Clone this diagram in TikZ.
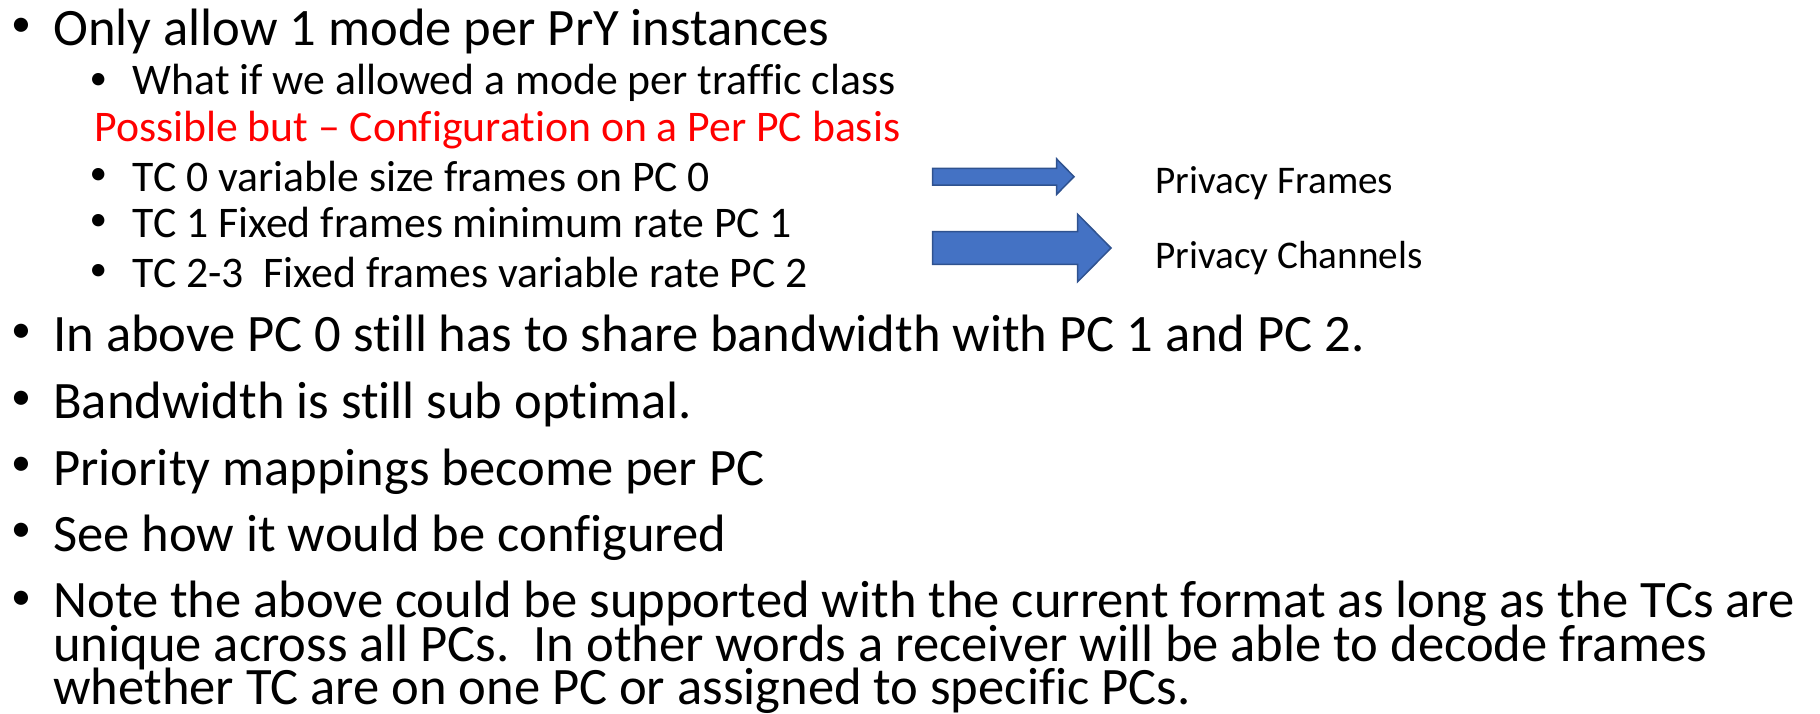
\documentclass[tikz,border=0pt]{standalone}
\usepackage{fontspec}
\setmainfont{Carlito}[Ligatures=NoCommon]
\definecolor{arrowfill}{HTML}{4472C4}
\definecolor{arrowline}{HTML}{2F528F}
\definecolor{redtext}{HTML}{FF0000}
\begin{document}
\begin{tikzpicture}[x=1pt,y=-1pt,
  every node/.style={inner sep=0pt,outer sep=0pt},
  lone/.style={anchor=base west,font=\fontsize{52.6}{52.6}\selectfont},
  ltwo/.style={anchor=base west,font=\fontsize{43.7}{43.7}\selectfont},
  lbl/.style={anchor=base west,font=\fontsize{39.2}{39.2}\selectfont},
  bone/.style={anchor=center,font=\fontsize{40}{40}\selectfont},
  btwo/.style={anchor=center,font=\fontsize{35}{35}\selectfont},
  blockarrow/.style={fill=arrowfill,draw=arrowline,line width=1.5pt,line join=miter}]
\useasboundingbox (0,0) rectangle (1820,713);
% level 1
\node[bone] (b1) at (21.7,27.3) {•};
\node[lone] (t1) at (53.3,45.7) {Only allow 1 mode per PrY instances};
% level 2
\node[btwo] (b2) at (98.3,81) {•};
\node[ltwo] (t2) at (132.7,94.3) {What if we allowed a mode per traffic class};
\node[ltwo,text=redtext] (t3) at (94.3,141.7) {Possible but – Configuration on a Per PC basis};
\node[btwo] (b4) at (98.3,176) {•};
\node[ltwo] (t4) at (132.7,191) {TC 0 variable size frames on PC 0};
\node[btwo] (b5) at (98.3,222.7) {•};
\node[ltwo] (t5) at (132.7,237.7) {TC 1 Fixed frames minimum rate PC 1};
\node[btwo] (b6) at (98.3,272) {•};
\node[ltwo] (t6) at (132.7,287.3) {TC 2-3\ \ Fixed frames variable rate PC 2};
% level 1 again
\node[bone] (b7) at (21.7,333.3) {•};
\node[lone] (t7) at (53.3,351.7) {In above PC 0 still has to share bandwidth with PC 1 and PC 2.};
\node[bone] (b8) at (21.7,400) {•};
\node[lone] (t8) at (53.3,418.3) {Bandwidth is still sub optimal.};
\node[bone] (b9) at (21.7,466.6) {•};
\node[lone] (t9) at (53.3,485) {Priority mappings become per PC};
\node[bone] (b10) at (21.7,532.6) {•};
\node[lone] (t10) at (53.3,551) {See how it would be configured};
\node[bone] (b11) at (21.7,600) {•};
\node[lone] (t11) at (53.3,617.7) {Note the above could be supported with the current format as long as the TCs are};
\node[lone] (t12) at (53.3,661.7) {unique across all PCs.\ \ In other words a receiver will be able to decode frames};
\node[lone] (t13) at (53.3,704.3) {whether TC are on one PC or assigned to specific PCs.};
% arrows
\draw[blockarrow] (932.7,168.3) -- (1056.7,168.3) -- (1056.7,159) -- (1074,176.7)
  -- (1056.7,194.3) -- (1056.7,185) -- (932.7,185) -- cycle;
\draw[blockarrow] (932.7,231.7) -- (1077.7,231.7) -- (1077.7,214.3) -- (1111,248)
  -- (1077.7,281.7) -- (1077.7,264.3) -- (932.7,264.3) -- cycle;
\node[lbl] (pf) at (1155.4,193.6) {Privacy Frames};
\node[lbl] (pc) at (1155.4,268.6) {Privacy Channels};
\end{tikzpicture}
\end{document}
